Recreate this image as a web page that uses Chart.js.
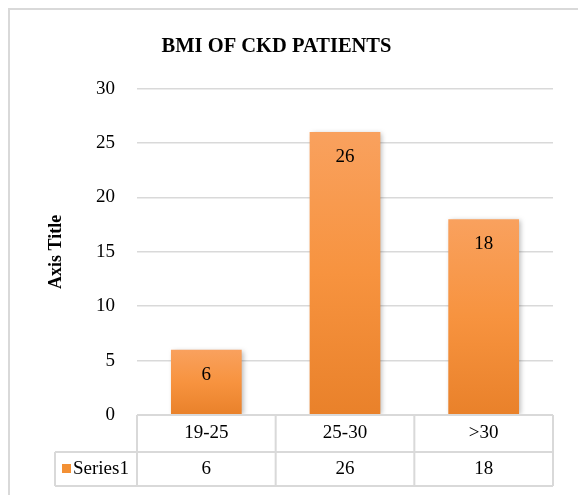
<!DOCTYPE html>
<html>
<head>
<meta charset="utf-8">
<script src="https://cdn.jsdelivr.net/npm/chart.js@4.4.1/dist/chart.umd.min.js"></script>
<style>
  html, body { margin: 0; padding: 0; background: #fff; }
  #wrap { width: 578px; height: 495px; }
</style>
</head>
<body>
<div id="wrap"><canvas id="chart" width="578" height="495"></canvas></div>
<script>
// data
const categories = ['19-25', '25-30', '>30'];
const seriesName = 'Series1';
const values = [6, 26, 18];
const yTicks = [0, 5, 10, 15, 20, 25, 30];

const FONT = "'Liberation Serif', 'Times New Roman', serif";
const LINE = '#d9d9d9';
const TXT = 19;

function barGradient(context) {
  const chart = context.chart;
  if (!chart.chartArea || context.type !== 'data') return '#f5913b';
  const y = chart.scales.y;
  const top = y.getPixelForValue(context.raw);
  const bottom = y.getPixelForValue(0);
  const g = chart.ctx.createLinearGradient(0, top, 0, bottom);
  g.addColorStop(0, '#f9a15e');
  g.addColorStop(0.5, '#f7933f');
  g.addColorStop(1, '#e9812a');
  return g;
}

// cadre gris (haut et gauche)
const framePlugin = {
  id: 'frame',
  beforeDraw(chart) {
    const ctx = chart.ctx;
    ctx.save();
    ctx.strokeStyle = LINE;
    ctx.lineWidth = 2;
    ctx.beginPath();
    ctx.moveTo(9, chart.height);
    ctx.lineTo(9, 9);
    ctx.lineTo(chart.width, 9);
    ctx.stroke();
    ctx.restore();
  }
};

// ombre des barres
const shadowPlugin = {
  id: 'barShadow',
  beforeDatasetsDraw(chart) {
    const ctx = chart.ctx;
    ctx.save();
    ctx.shadowColor = 'rgba(0,0,0,0.28)';
    ctx.shadowBlur = 5;
    ctx.shadowOffsetX = 2;
    ctx.shadowOffsetY = 1;
  },
  afterDatasetsDraw(chart) {
    chart.ctx.restore();
  }
};

// étiquettes de valeurs dans les barres
const labelPlugin = {
  id: 'barLabels',
  afterDatasetsDraw(chart) {
    const ctx = chart.ctx;
    const meta = chart.getDatasetMeta(0);
    ctx.save();
    ctx.font = TXT + 'px ' + FONT;
    ctx.fillStyle = '#000';
    ctx.textAlign = 'center';
    ctx.textBaseline = 'middle';
    meta.data.forEach((bar, i) => {
      ctx.fillText(String(values[i]), bar.x, bar.y + 25);
    });
    ctx.restore();
  }
};

// tableau de données sous l'axe X
const tablePlugin = {
  id: 'dataTable',
  afterDraw(chart) {
    const ctx = chart.ctx;
    const a = chart.chartArea;
    const x = chart.scales.x;
    const colW = a.width / categories.length;
    const row1 = a.bottom;
    const row2 = a.bottom + 37;
    const row3 = a.bottom + 71;
    const labelLeft = 55;

    ctx.save();
    ctx.strokeStyle = LINE;
    ctx.lineWidth = 2;
    ctx.beginPath();
    ctx.moveTo(a.left, row1); ctx.lineTo(a.right, row1);
    ctx.moveTo(labelLeft, row2); ctx.lineTo(a.right, row2);
    ctx.moveTo(labelLeft, row3); ctx.lineTo(a.right, row3);
    for (let i = 0; i <= categories.length; i++) {
      const px = a.left + i * colW;
      ctx.moveTo(px, row1); ctx.lineTo(px, row3);
    }
    ctx.moveTo(labelLeft, row2); ctx.lineTo(labelLeft, row3);
    ctx.stroke();

    const midY = (row2 + row3) / 2;
    ctx.fillStyle = '#f39034';
    ctx.fillRect(62, midY - 5, 9, 9);

    ctx.font = TXT + 'px ' + FONT;
    ctx.fillStyle = '#000';
    ctx.textBaseline = 'middle';
    ctx.textAlign = 'left';
    ctx.fillText(seriesName, 73, midY);
    ctx.textAlign = 'center';
    values.forEach((v, i) => {
      ctx.fillText(String(v), x.getPixelForValue(i), midY);
    });
    ctx.restore();
  }
};

new Chart(document.getElementById('chart'), {
  type: 'bar',
  data: {
    labels: categories,
    datasets: [{
      label: seriesName,
      data: values,
      backgroundColor: barGradient,
      borderWidth: 0,
      categoryPercentage: 1,
      barPercentage: 0.51
    }]
  },
  options: {
    responsive: false,
    animation: false,
    devicePixelRatio: 1,
    layout: { padding: { left: 0, right: 25, top: 0, bottom: 8 } },
    plugins: {
      legend: { display: false },
      tooltip: { enabled: false },
      title: {
        display: true,
        text: 'BMI OF CKD PATIENTS',
        color: '#000',
        font: { family: FONT, size: 20.5, weight: 'bold' },
        padding: { top: 34, bottom: 30 }
      }
    },
    scales: {
      x: {
        grid: { display: false, drawTicks: false },
        border: { display: false },
        ticks: {
          color: '#000',
          padding: 7,
          maxRotation: 0,
          font: { family: FONT, size: TXT }
        },
        afterFit(scale) { scale.height = 72; }
      },
      y: {
        min: 0,
        max: 30,
        afterBuildTicks(scale) {
          scale.ticks = yTicks.map(v => ({ value: v }));
        },
        grid: { color: LINE, lineWidth: 1.5, drawTicks: false },
        border: { display: false },
        ticks: {
          color: '#000',
          padding: 22,
          font: { family: FONT, size: TXT }
        },
        title: {
          display: true,
          text: 'Axis Title',
          color: '#000',
          font: { family: FONT, size: 18, weight: 'bold' },
          padding: { top: 46, bottom: 0 }
        },
        afterFit(scale) { scale.width = 137; }
      }
    }
  },
  plugins: [framePlugin, shadowPlugin, labelPlugin, tablePlugin]
});
</script>
</body>
</html>
